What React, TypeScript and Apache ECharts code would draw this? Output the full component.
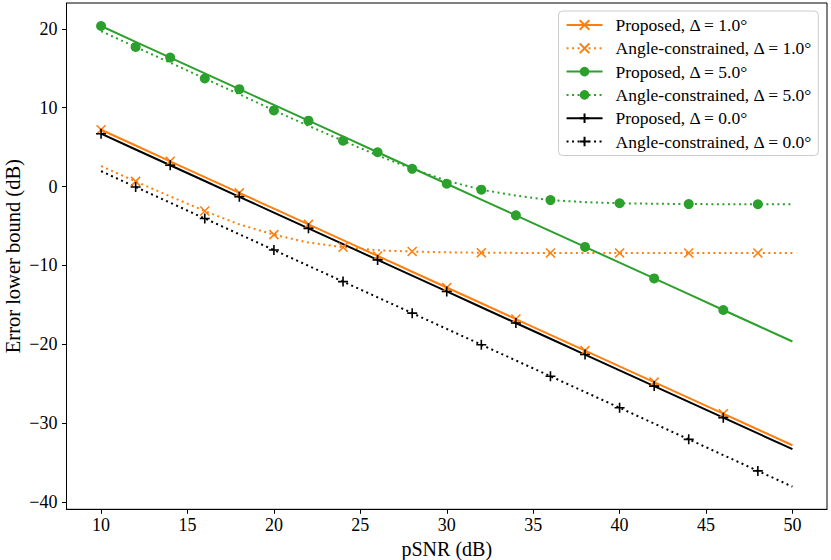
import React, { useEffect, useRef } from "react";
import * as echarts from "echarts";

const pSNR = [10, 12, 14, 16, 18, 20, 22, 24, 26, 28, 30, 32, 34, 36, 38, 40, 42, 44, 46, 48, 50];
const proposed1 = [7.2, 5.2, 3.2, 1.2, -0.8, -2.8, -4.8, -6.8, -8.8, -10.8, -12.8, -14.8, -16.8, -18.8, -20.8, -22.8, -24.8, -26.8, -28.8, -30.8, -32.8];
const constrained1 = [2.6, 0.65, -1.25, -3.1, -4.8, -6.1, -7.1, -7.7, -8.08, -8.24, -8.34, -8.39, -8.41, -8.42, -8.42, -8.42, -8.42, -8.43, -8.43, -8.43, -8.43];
const proposed5 = [20.35, 18.35, 16.35, 14.35, 12.35, 10.35, 8.35, 6.35, 4.35, 2.35, 0.35, -1.65, -3.65, -5.65, -7.65, -9.65, -11.65, -13.65, -15.65, -17.65, -19.65];
const constrained5 = [19.7, 17.7, 15.7, 13.7, 11.7, 9.65, 7.7, 5.8, 3.95, 2.25, 0.75, -0.4, -1.15, -1.72, -1.98, -2.12, -2.18, -2.22, -2.24, -2.25, -2.25];
const proposed0 = [6.7, 4.7, 2.7, 0.7, -1.3, -3.3, -5.3, -7.3, -9.3, -11.3, -13.3, -15.3, -17.3, -19.3, -21.3, -23.3, -25.3, -27.3, -29.3, -31.3, -33.3];
const constrained0 = [1.95, -0.05, -2.05, -4.05, -6.05, -8.05, -10.05, -12.05, -14.05, -16.05, -18.05, -20.05, -22.05, -24.05, -26.05, -28.05, -30.05, -32.05, -34.05, -36.05, -38.05];

const markersSolid = [10, 14, 18, 22, 26, 30, 34, 38, 42, 46];
const markersDotted = [12, 16, 20, 24, 28, 32, 36, 40, 44, 48];

const xTicks = [10, 15, 20, 25, 30, 35, 40, 45, 50];
const yTicks = [-40, -30, -20, -10, 0, 10, 20];

const names = [
  "Proposed, Δ = 1.0°",
  "Angle-constrained, Δ = 1.0°",
  "Proposed, Δ = 5.0°",
  "Angle-constrained, Δ = 5.0°",
  "Proposed, Δ = 0.0°",
  "Angle-constrained, Δ = 0.0°",
];

const ORANGE = "#ff7f0e";
const GREEN = "#2ca02c";
const BLACK = "#000000";
const FONT = "Liberation Serif";
const CROSS = "path://M0,0L10,10M10,0L0,10";
const PLUS = "path://M5,0L5,10M0,5L10,5";
const DOTS = [2, 3.5];

function build(values: number[], marks: number[]) {
  return pSNR.map((x, i) =>
    marks.includes(x) ? { value: [x, values[i]] } : { value: [x, values[i]], symbol: "none" }
  );
}

function mkSeries(
  name: string,
  values: number[],
  marks: number[],
  color: string,
  dotted: boolean,
  symbol: string,
  size: number
) {
  const isPath = symbol.startsWith("path://");
  return {
    name,
    type: "line",
    data: build(values, marks),
    symbol,
    symbolSize: size,
    showSymbol: true,
    smooth: false,
    lineStyle: { color, width: 2, type: dotted ? DOTS : "solid", cap: "butt", join: "round" },
    itemStyle: isPath
      ? { color, borderColor: color, borderWidth: 1.6 }
      : { color, borderWidth: 0 },
    emphasis: { disabled: true },
    z: 2,
  };
}

export default function App() {
  const ref = useRef<HTMLDivElement>(null);
  useEffect(() => {
    if (!ref.current) return;
    const chart = echarts.init(ref.current, null, { renderer: "svg" });
    const minus = (v: number) => String(v).replace("-", "\u2212");
    chart.setOption({
      animation: false,
      backgroundColor: "#ffffff",
      grid: {
        left: 66.5,
        right: 4,
        top: 3,
        bottom: 50.7,
        show: true,
        borderColor: "#000",
        borderWidth: 1,
        containLabel: false,
        outerBoundsMode: "none",
      },
      legend: {
        orient: "vertical",
        align: "left",
        right: 12.7,
        top: 11,
        itemWidth: 36,
        itemHeight: 12,
        itemGap: 5.3,
        padding: [5, 6, 5, 7],
        backgroundColor: "rgba(255,255,255,0.8)",
        borderColor: "#cccccc",
        borderWidth: 1,
        borderRadius: 4,
        selectedMode: false,
        textStyle: { fontFamily: FONT, fontSize: 17.5, color: "#000", lineHeight: 18, padding: [0, 0, 0, 8] },
        data: names,
      },
      xAxis: {
        type: "value",
        min: 8,
        max: 52,
        name: "pSNR (dB)",
        nameLocation: "middle",
        nameGap: 30,
        nameMoveOverlap: false,
        nameTextStyle: { fontFamily: FONT, fontSize: 20, color: "#000" },
        axisLine: { show: true, onZero: false, lineStyle: { color: "#000", width: 1 } },
        axisTick: { show: true, length: 4.5, customValues: xTicks, lineStyle: { color: "#000", width: 1 } },
        axisLabel: { customValues: xTicks, margin: 7, fontFamily: FONT, fontSize: 18, color: "#000", formatter: minus },
        splitLine: { show: false },
      },
      yAxis: {
        type: "value",
        min: -40.92,
        max: 23.27,
        name: "Error lower bound (dB)",
        nameLocation: "middle",
        nameGap: 44,
        nameMoveOverlap: false,
        nameTextStyle: { fontFamily: FONT, fontSize: 20.5, color: "#000", lineHeight: 20 },
        axisLine: { show: true, onZero: false, lineStyle: { color: "#000", width: 1 } },
        axisTick: { show: true, length: 4.5, customValues: yTicks, lineStyle: { color: "#000", width: 1 } },
        axisLabel: { customValues: yTicks, margin: 9, fontFamily: FONT, fontSize: 18, color: "#000", formatter: minus },
        splitLine: { show: false },
      },
      series: [
        mkSeries(names[0], proposed1, markersSolid, ORANGE, false, CROSS, 9),
        mkSeries(names[1], constrained1, markersDotted, ORANGE, true, CROSS, 9),
        mkSeries(names[2], proposed5, markersSolid, GREEN, false, "circle", 10),
        mkSeries(names[3], constrained5, markersDotted, GREEN, true, "circle", 10),
        mkSeries(names[4], proposed0, markersSolid, BLACK, false, PLUS, 10),
        mkSeries(names[5], constrained0, markersDotted, BLACK, true, PLUS, 10),
      ],
    });
    return () => chart.dispose();
  }, []);
  return (
    <div
      ref={ref}
      style={{ position: "fixed", left: 0, top: 0, width: 831, height: 560, background: "#fff" }}
    />
  );
}
